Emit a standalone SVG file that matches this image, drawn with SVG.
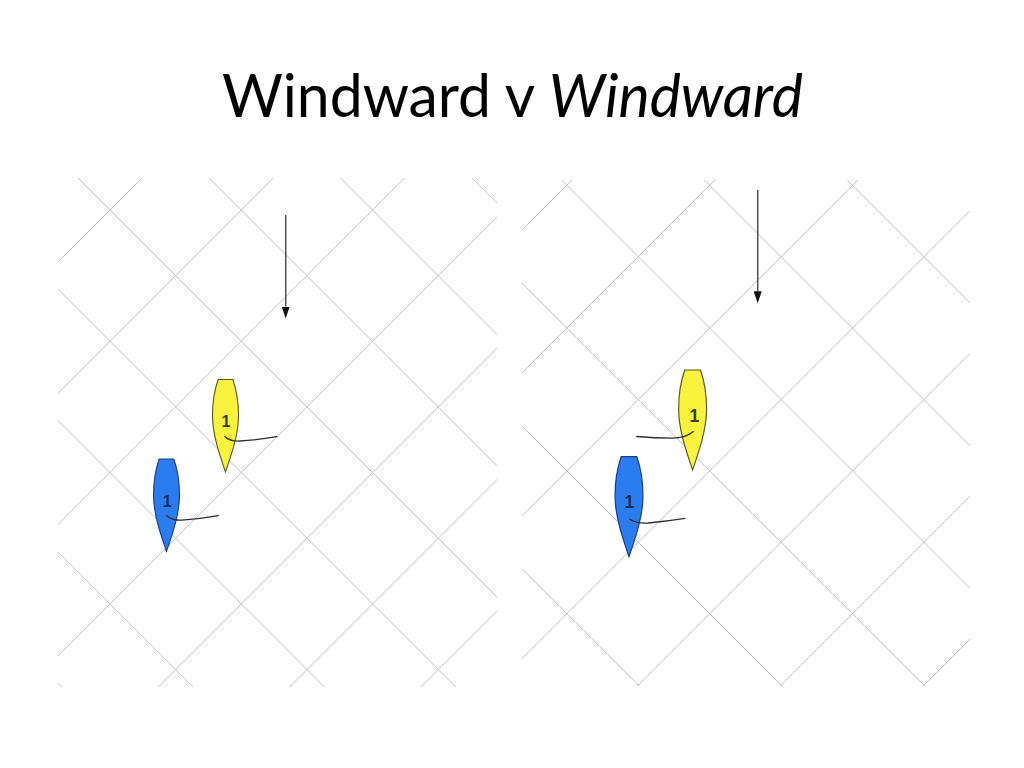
<svg xmlns="http://www.w3.org/2000/svg" xmlns:xlink="http://www.w3.org/1999/xlink" width="1024" height="768" viewBox="0 0 1024 768">
  <style>
    .grid line { stroke: #bcbfcc; stroke-width: 1; }
    .title { font-family: Lato, "Open Sans", "Liberation Sans", sans-serif; font-size: 60px; fill: #000; }
    .hull-y { fill: #f8f33c; stroke: #5e5818; stroke-width: 1.1; }
    .hull-b { fill: #2b7cee; stroke: #1b3c86; stroke-width: 1.1; }
    .num { font-family: "Liberation Sans", Arial, sans-serif; text-anchor: middle; font-weight: bold; }
    .num-y { fill: #3a3818; }
    .num-b { fill: #1c2b58; }
    .boom { fill: none; stroke: #2e2e2e; stroke-width: 1.3; stroke-linecap: round; }
    .wind { stroke: #505050; stroke-width: 1.5; fill: none; marker-end: url(#wind-head); }
  </style>
  <defs>
    <clipPath id="clip-left"><rect x="58" y="178" width="439" height="509"/></clipPath>
    <clipPath id="clip-right"><rect x="522" y="180" width="448" height="506"/></clipPath>
    <path id="hull" d="M-7.3,0 L7.3,0 C10.5,9 13,22 13,36 C13,55 6,75 0,92.4 C-6,75 -13,55 -13,36 C-13,22 -10.5,9 -7.3,0 Z"/>
    <marker id="wind-head" viewBox="0 0 12 8" markerWidth="12" markerHeight="8" refX="0" refY="4" orient="auto" markerUnits="userSpaceOnUse">
      <path d="M0,0 L12,4 L0,8 Z" fill="#111"/>
    </marker>
  </defs>

  <rect x="0" y="0" width="1024" height="768" fill="#fff"/>

  <text class="title" x="222" y="117" textLength="581" lengthAdjust="spacingAndGlyphs">Windward v <tspan font-style="italic">Windward</tspan></text>

  <!-- Left panel grid: x-y = -100 + 131.3k, x+y = 320 + 131.3k -->
  <g id="grid-left" class="grid" clip-path="url(#clip-left)">
    <line x1="-525.2" y1="100" x2="174.8" y2="800"/>
    <line x1="-393.9" y1="100" x2="306.1" y2="800"/>
    <line x1="-262.6" y1="100" x2="437.4" y2="800"/>
    <line x1="-131.3" y1="100" x2="568.7" y2="800"/>
    <line x1="0" y1="100" x2="700" y2="800"/>
    <line x1="131.3" y1="100" x2="831.3" y2="800"/>
    <line x1="262.6" y1="100" x2="962.6" y2="800"/>
    <line x1="393.9" y1="100" x2="1093.9" y2="800"/>
    <line x1="220" y1="100" x2="-480" y2="800"/>
    <line x1="351.3" y1="100" x2="-348.7" y2="800"/>
    <line x1="482.6" y1="100" x2="-217.4" y2="800"/>
    <line x1="613.9" y1="100" x2="-86.1" y2="800"/>
    <line x1="745.2" y1="100" x2="45.2" y2="800"/>
    <line x1="876.5" y1="100" x2="176.5" y2="800"/>
    <line x1="1007.8" y1="100" x2="307.8" y2="800"/>
  </g>

  <!-- Right panel grid: x-y = 381.6 + 142.8k, x+y = 895 + 142.8k -->
  <g id="grid-right" class="grid" clip-path="url(#clip-right)">
    <line x1="53.2" y1="100" x2="753.2" y2="800"/>
    <line x1="196" y1="100" x2="896" y2="800"/>
    <line x1="338.8" y1="100" x2="1038.8" y2="800"/>
    <line x1="481.6" y1="100" x2="1181.6" y2="800"/>
    <line x1="624.4" y1="100" x2="1324.4" y2="800"/>
    <line x1="767.2" y1="100" x2="1467.2" y2="800"/>
    <line x1="652.2" y1="100" x2="-47.8" y2="800"/>
    <line x1="795" y1="100" x2="95" y2="800"/>
    <line x1="937.8" y1="100" x2="237.8" y2="800"/>
    <line x1="1080.6" y1="100" x2="380.6" y2="800"/>
    <line x1="1223.4" y1="100" x2="523.4" y2="800"/>
    <line x1="1366.2" y1="100" x2="666.2" y2="800"/>
    <line x1="1509" y1="100" x2="809" y2="800"/>
  </g>

  <!-- Wind arrows -->
  <g id="connectors">
    <line id="wind-left" class="wind" x1="285.7" y1="215" x2="285.7" y2="306.5"/>
    <line id="wind-right" class="wind" x1="757.7" y1="190" x2="757.7" y2="291.3"/>
  </g>

  <!-- Left panel boats -->
  <g id="left-yellow">
    <use xlink:href="#hull" href="#hull" class="hull-y" transform="translate(225.5,379.5)"/>
    <text class="num num-y" x="226" y="427.3" font-size="16">1</text>
    <path class="boom" d="M225,436.7 Q230,441.5 240,441 Q258,440 276.7,436.7"/>
  </g>
  <g id="left-blue">
    <use xlink:href="#hull" href="#hull" class="hull-b" transform="translate(166.5,459)"/>
    <text class="num num-b" x="167.3" y="506.7" font-size="16">1</text>
    <path class="boom" d="M166.7,515.7 Q172,520.5 182,520.2 Q200,519 218.3,515.7"/>
  </g>

  <!-- Right panel boats -->
  <g id="right-yellow">
    <use xlink:href="#hull" href="#hull" class="hull-y" transform="translate(692.6,370) scale(1.075,1.082)"/>
    <text class="num num-y" x="694.3" y="421.7" font-size="17.5">1</text>
    <path class="boom" d="M693.3,431.5 Q686,438 672,438.2 Q655,438 636.7,436.5"/>
  </g>
  <g id="right-blue">
    <use xlink:href="#hull" href="#hull" class="hull-b" transform="translate(629,456.7) scale(1.075,1.082)"/>
    <text class="num num-b" x="629.3" y="508.3" font-size="17.5">1</text>
    <path class="boom" d="M630,519.3 Q636,523.5 648,523 Q668,521 685,518.3"/>
  </g>
</svg>
